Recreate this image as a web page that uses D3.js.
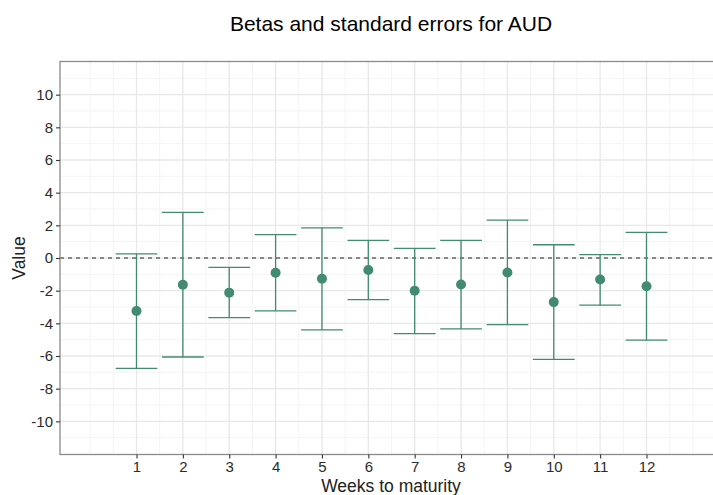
<!DOCTYPE html>
<html>
<head>
<meta charset="utf-8">
<script src="https://cdn.jsdelivr.net/npm/d3@7"></script>
<style>
  html, body { margin: 0; padding: 0; background: #fff; overflow: hidden; }
  svg { display: block; font-family: "Liberation Sans", Arial, sans-serif; }
</style>
</head>
<body>
<svg id="chart" width="713" height="495"></svg>
<script>
// Weeks to maturity, estimated betas and their confidence bounds
const weeks = [1, 2, 3, 4, 5, 6, 7, 8, 9, 10, 11, 12];
const betas = [-3.25, -1.64, -2.12, -0.90, -1.27, -0.74, -2.01, -1.62, -0.89, -2.70, -1.32, -1.73];
const upper = [0.25, 2.79, -0.57, 1.43, 1.85, 1.08, 0.59, 1.08, 2.32, 0.81, 0.21, 1.57];
const lower = [-6.76, -6.06, -3.65, -3.24, -4.40, -2.55, -4.63, -4.34, -4.08, -6.21, -2.89, -5.03];
const yTicks = [-10, -8, -6, -4, -2, 0, 2, 4, 6, 8, 10];
const yMinor = [-11, -9, -7, -5, -3, -1, 1, 3, 5, 7, 9, 11];
const xMinor = [0, 0.5, 1.5, 2.5, 3.5, 4.5, 5.5, 6.5, 7.5, 8.5, 9.5, 10.5, 11.5, 12.5, 13, 13.5];

const color = "#428a70";
const svg = d3.select("#chart");
const panel = { left: 60, top: 61.5, right: 723, bottom: 454.5 };

const x = d3.scaleLinear().domain([-0.65, 13.65]).range([panel.left, panel.right]);
const y = d3.scaleLinear().domain([-12.03, 12.03]).range([panel.bottom, panel.top]);

// panel background
svg.append("rect")
  .attr("x", panel.left).attr("y", panel.top)
  .attr("width", panel.right - panel.left).attr("height", panel.bottom - panel.top)
  .attr("fill", "#fff");

const grid = svg.append("g");
// minor grid
grid.selectAll(".ym").data(yMinor).join("line")
  .attr("x1", panel.left).attr("x2", panel.right)
  .attr("y1", d => y(d)).attr("y2", d => y(d))
  .attr("stroke", "#f4f4f4").attr("stroke-width", 1);
grid.selectAll(".xm").data(xMinor).join("line")
  .attr("y1", panel.top).attr("y2", panel.bottom)
  .attr("x1", d => x(d)).attr("x2", d => x(d))
  .attr("stroke", "#f4f4f4").attr("stroke-width", 1);
// major grid
grid.selectAll(".yM").data(yTicks).join("line")
  .attr("x1", panel.left).attr("x2", panel.right)
  .attr("y1", d => y(d)).attr("y2", d => y(d))
  .attr("stroke", "#e8e8e8").attr("stroke-width", 1.3);
grid.selectAll(".xM").data(weeks).join("line")
  .attr("y1", panel.top).attr("y2", panel.bottom)
  .attr("x1", d => x(d)).attr("x2", d => x(d))
  .attr("stroke", "#e8e8e8").attr("stroke-width", 1.3);

// zero reference line
svg.append("line")
  .attr("x1", panel.left).attr("x2", panel.right)
  .attr("y1", y(0)).attr("y2", y(0))
  .attr("stroke", "#222").attr("stroke-width", 1.1)
  .attr("stroke-dasharray", "4,4");

// error bars
const rows = weeks.map((w, i) => ({ w, b: betas[i], lo: lower[i], hi: upper[i] }));
const capHalf = 0.45;
const eb = svg.append("g").attr("stroke", color).attr("stroke-width", 1.3).attr("fill", "none");
eb.selectAll(".v").data(rows).join("line")
  .attr("x1", d => x(d.w)).attr("x2", d => x(d.w))
  .attr("y1", d => y(d.hi)).attr("y2", d => y(d.lo));
eb.selectAll(".ct").data(rows).join("line")
  .attr("x1", d => x(d.w - capHalf)).attr("x2", d => x(d.w + capHalf))
  .attr("y1", d => y(d.hi)).attr("y2", d => y(d.hi));
eb.selectAll(".cb").data(rows).join("line")
  .attr("x1", d => x(d.w - capHalf)).attr("x2", d => x(d.w + capHalf))
  .attr("y1", d => y(d.lo)).attr("y2", d => y(d.lo));

// points
svg.append("g").selectAll("circle").data(rows).join("circle")
  .attr("cx", d => x(d.w)).attr("cy", d => y(d.b)).attr("r", 5)
  .attr("fill", color);

// panel border
svg.append("rect")
  .attr("x", panel.left).attr("y", panel.top)
  .attr("width", panel.right - panel.left).attr("height", panel.bottom - panel.top)
  .attr("fill", "none").attr("stroke", "#8a8a8a").attr("stroke-width", 1.3);

// axes (plain hyphen for negative numbers)
const fmt = d => String(d);
const yAxis = d3.axisLeft(y).tickValues(yTicks).tickSize(4).tickPadding(3).tickFormat(fmt);
const gy = svg.append("g").attr("transform", `translate(${panel.left},0)`).call(yAxis);
const xAxis = d3.axisBottom(x).tickValues(weeks).tickSize(4).tickPadding(3).tickFormat(fmt);
const gx = svg.append("g").attr("transform", `translate(0,${panel.bottom})`).call(xAxis);
[gy, gx].forEach(g => {
  g.select(".domain").remove();
  g.selectAll(".tick line").attr("stroke", "#333").attr("stroke-width", 1.1);
  g.selectAll(".tick text").attr("fill", "#2b2b2b").style("font-size", "15px")
    .style("font-family", "'Liberation Sans', Arial, sans-serif");
});

// titles
svg.append("text")
  .attr("x", 391).attr("y", 31)
  .attr("text-anchor", "middle")
  .style("font-size", "21px").attr("fill", "#000")
  .text("Betas and standard errors for AUD");

svg.append("text")
  .attr("x", 391).attr("y", 492)
  .attr("text-anchor", "middle")
  .style("font-size", "17.5px").attr("fill", "#222")
  .text("Weeks to maturity");

svg.append("text")
  .attr("transform", `translate(25,258) rotate(-90)`)
  .attr("text-anchor", "middle")
  .style("font-size", "17.5px").attr("fill", "#222")
  .text("Value");
</script>
</body>
</html>
